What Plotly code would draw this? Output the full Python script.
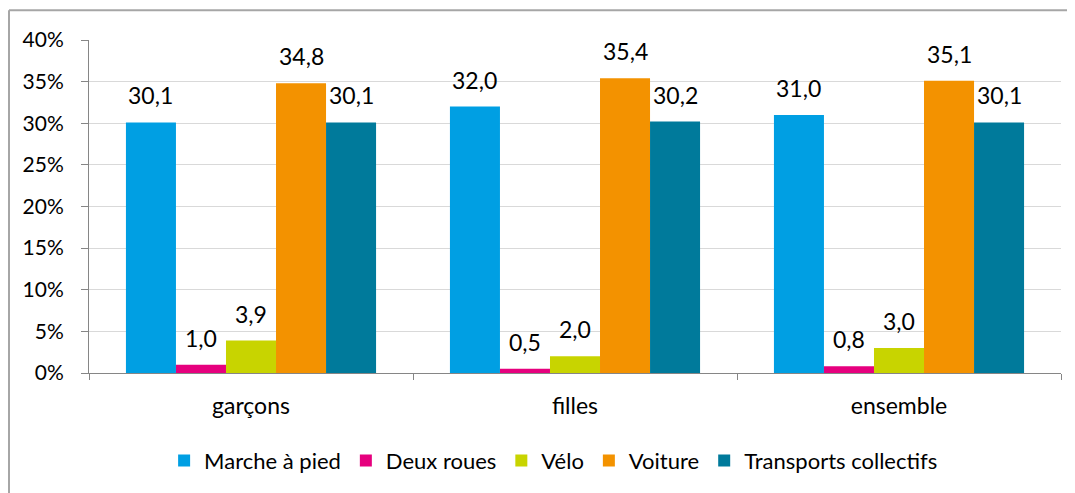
import plotly.graph_objects as go

categories = ["garçons", "filles", "ensemble"]
series_names = ["Marche à pied", "Deux roues", "Vélo", "Voiture", "Transports collectifs"]
marche = [30.1, 32.0, 31.0]
deux_roues = [1.0, 0.5, 0.8]
velo = [3.9, 2.0, 3.0]
voiture = [34.8, 35.4, 35.1]
transports = [30.1, 30.2, 30.1]
series_values = [marche, deux_roues, velo, voiture, transports]
colors = ["#009FE3", "#E6007E", "#C8D400", "#F39200", "#007A9B"]
y_ticks = [0, 5, 10, 15, 20, 25, 30, 35, 40]
y_tick_labels = [f"{t}%" for t in y_ticks]

FONT = "Lato"
BARGAP = 0.228
n = len(series_names)
bw = (1 - BARGAP) / n

fig = go.Figure()
annotations = []
for i, (name, vals, col) in enumerate(zip(series_names, series_values, colors)):
    fig.add_trace(go.Bar(
        name=name, x=categories, y=vals, marker=dict(color=col, line=dict(width=0)),
    ))
    for ci, v in enumerate(vals):
        xpos = ci - (1 - BARGAP) / 2 + bw * (i + 0.5)
        annotations.append(dict(
            x=xpos, y=v, xref="x", yref="y", text=f"{v:.1f}".replace(".", ","),
            showarrow=False, yanchor="bottom", yshift=11,
            font=dict(family=FONT, size=23, color="#000000"),
        ))

fig.update_layout(
    width=1067, height=485,
    margin=dict(l=81, r=14, t=32, b=118),
    paper_bgcolor="white", plot_bgcolor="white",
    barmode="group", bargap=BARGAP, bargroupgap=0,
    font=dict(family=FONT, color="#000000"),
    annotations=annotations,
    showlegend=True,
    legend=dict(orientation="h", x=0.478, xanchor="center", y=-0.263, yanchor="middle",
                font=dict(family=FONT, size=22), itemwidth=30, traceorder="normal"),
    xaxis=dict(
        type="category", range=[-0.5, 2.5], showgrid=False,
        showline=True, linecolor="#868686", linewidth=1,
        ticks="outside", ticklen=6, tickcolor="#868686", tickson="boundaries",
        tickfont=dict(family=FONT, size=23), ticklabelstandoff=12,
    ),
    yaxis=dict(
        range=[0, 40], tickvals=y_ticks, ticktext=y_tick_labels,
        showgrid=True, gridcolor="#d9d9d9", gridwidth=1,
        showline=True, linecolor="#868686", linewidth=1,
        ticks="outside", ticklen=7, tickcolor="#868686",
        tickfont=dict(family=FONT, size=21), ticklabelstandoff=13,
        zeroline=False,
    ),
    shapes=[
        dict(type="line", xref="paper", yref="paper", x0=-0.0823, x1=1.06, y0=1.0896, y1=1.0896,
             line=dict(color="#a6a6a6", width=2)),
        dict(type="line", xref="paper", yref="paper", x0=-0.0823, x1=-0.0823, y0=1.0896, y1=-0.36,
             line=dict(color="#a6a6a6", width=2)),
    ],
)

fig.write_html("out.html")
